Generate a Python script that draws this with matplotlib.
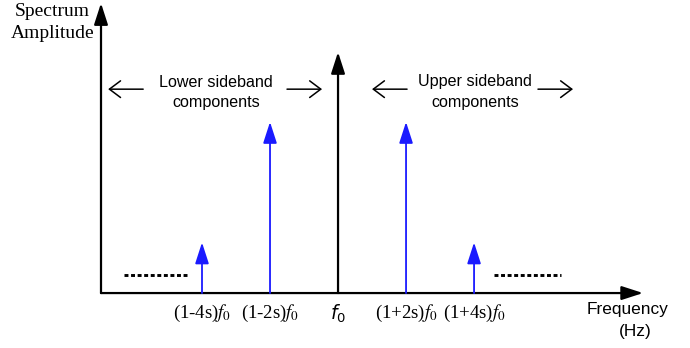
import matplotlib.pyplot as plt

# harmonic offsets (in units of s) and relative spectral amplitudes
offsets = [-4, -2, 0, 2, 4]
amplitudes = [0.21, 0.71, 1.0, 0.71, 0.21]
tick_labels = [r'(1-4s)$f_{\mathit{0}}$', r'(1-2s)$f_{\mathit{0}}$', r'$f_{\mathit{0}}$',
               r'(1+2s)$f_{\mathit{0}}$', r'(1+4s)$f_{\mathit{0}}$']
dash_left = (-6.3, -4.45)
dash_right = (4.6, 6.55)
dash_level = 0.075

fig = plt.figure(figsize=(6.9, 3.48), dpi=100)
ax = fig.add_axes([0, 0, 1, 1])
ax.set_xlim(-9.94, 10.35)
ax.set_ylim(-0.228, 1.216)
ax.axis('off')

serif = 'Liberation Serif'
sans = 'Liberation Sans'


def arrow(x0, y0, x1, y1, color='k', lw=1.5, style='-|>,head_length=1.3,head_width=0.42'):
    ax.annotate('', xy=(x1, y1), xytext=(x0, y0),
                arrowprops=dict(arrowstyle=style, color=color, lw=lw,
                                shrinkA=0, shrinkB=0, mutation_scale=10))


# axes
x_axis_start = -6.97
arrow(x_axis_start, 0, 8.97, 0, lw=1.6)
arrow(x_axis_start, 0, x_axis_start, 1.203, lw=1.6)

# spectral lines
for off, amp in zip(offsets, amplitudes):
    col = 'k' if off == 0 else '#1a1aff'
    arrow(off, 0, off, amp, color=col, lw=1.6 if off == 0 else 1.3)

# continuation dashes
for seg in (dash_left, dash_right):
    ax.plot(seg, [dash_level, dash_level], color='k', lw=2.1, ls=(0, (1.35, 0.9)))

# frequency labels
for off, lab in zip(offsets, tick_labels):
    if off == 0:
        ax.text(off, -0.085, lab, ha='center', va='center', fontsize=13.5,
                math_fontfamily='dejavusans')
    else:
        ax.text(off, -0.085, lab, ha='center', va='center', fontsize=13.5,
                family=serif, math_fontfamily='stix')

ax.text(8.5, -0.07, 'Frequency', ha='center', va='center', fontsize=12.4, family=sans)
ax.text(8.75, -0.16, '(Hz)', ha='center', va='center', fontsize=12.4, family=sans)
ax.text(-8.39, 1.17, 'Spectrum', ha='center', va='center', fontsize=14, family=serif)
ax.text(-8.39, 1.079, 'Amplitude', ha='center', va='center', fontsize=14, family=serif)

# sideband annotations
ax.text(-3.585, 0.872, 'Lower sideband', ha='center', va='center', fontsize=11.6, family=sans)
ax.text(-3.585, 0.789, 'components', ha='center', va='center', fontsize=11.6, family=sans)
ax.text(4.03, 0.876, 'Upper sideband', ha='center', va='center', fontsize=11.6, family=sans)
ax.text(4.03, 0.789, 'components', ha='center', va='center', fontsize=11.6, family=sans)

thin = '->,head_length=0.8,head_width=0.6'
arrow(-5.73, 0.846, -6.76, 0.846, lw=1.1, style=thin)
arrow(-1.50, 0.846, -0.47, 0.846, lw=1.1, style=thin)
arrow(2.03, 0.846, 1.00, 0.846, lw=1.1, style=thin)
arrow(5.88, 0.846, 6.91, 0.846, lw=1.1, style=thin)

fig.savefig('out.png', dpi=100, facecolor='white')
